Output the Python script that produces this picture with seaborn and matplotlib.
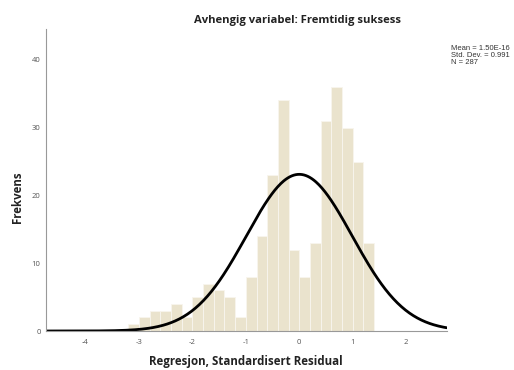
import numpy as np
import pandas as pd
import matplotlib
matplotlib.use("Agg")
import matplotlib.pyplot as plt
import seaborn as sns

# Histogram of standardized residuals (bin width 0.2, from -3.2 to 1.4)
bin_edges = [round(-3.2 + 0.2 * i, 1) for i in range(24)]
counts = [1, 2, 3, 3, 4, 2, 5, 7, 6, 5, 2, 8, 14, 23, 34, 12, 8, 13, 31, 36, 30, 25, 13]

# Summary statistics
mean_val = 1.50e-16
std_val = 0.991
n_obs = 287

x_ticks = [-4, -3, -2, -1, 0, 1, 2]
y_ticks = [0, 10, 20, 30, 40]

title = "Avhengig variabel: Fremtidig suksess"
x_label = "Regresjon, Standardisert Residual"
y_label = "Frekvens"

sns.set_theme(style="white")
plt.rcParams["font.family"] = ["Open Sans", "DejaVu Sans"]

centers = [(bin_edges[i] + bin_edges[i + 1]) / 2 for i in range(len(counts))]
df = pd.DataFrame({"residual": centers, "count": counts})

fig = plt.figure(figsize=(5.14, 3.70), dpi=100)
ax = fig.add_axes([45.5 / 514, 39 / 370, (446.7 - 45.5) / 514, (331 - 29.3) / 370])

sns.histplot(data=df, x="residual", weights="count", bins=bin_edges,
             color="#EAE3CD", alpha=1.0, edgecolor="#F8F5EE", linewidth=0.6, ax=ax)

# Fitted normal curve scaled to counts per bin
xmin, xmax = -4.75, 2.76
width = bin_edges[1] - bin_edges[0]
xs = np.linspace(xmin, xmax, 400)
ys = n_obs * width * np.exp(-0.5 * ((xs - mean_val) / std_val) ** 2) / (std_val * np.sqrt(2 * np.pi))
sns.lineplot(x=xs, y=ys, color="black", linewidth=2.0, ax=ax)

ax.set_xlim(xmin, xmax)
ax.set_ylim(0, 44.5)
ax.set_xticks(x_ticks)
ax.set_xticklabels([str(t) for t in x_ticks])
ax.set_yticks(y_ticks)
ax.set_yticklabels([str(t) for t in y_ticks])
ax.tick_params(axis="both", length=0, labelsize=5.5, labelcolor="#555555")
ax.tick_params(axis="x", pad=6)
ax.tick_params(axis="y", pad=3.5)
ax.set_xlabel("")
ax.set_ylabel("")
for side in ["top", "right"]:
    ax.spines[side].set_visible(False)
for side in ["left", "bottom"]:
    ax.spines[side].set_color("#999999")
    ax.spines[side].set_linewidth(0.8)

fig.text(298 / 514, 1 - 20 / 370, title, ha="center", va="center",
         fontsize=8.1, fontweight="bold", color="#222222")
fig.text(246 / 514, 1 - 362 / 370, x_label, ha="center", va="center",
         fontsize=8.3, fontweight="bold", color="#222222")
fig.text(17 / 514, 1 - 197 / 370, y_label, ha="center", va="center", rotation=90,
         fontsize=8.3, fontweight="bold", color="#222222")

stats = f"Mean = {mean_val:.2E}" + "\n" + f"Std. Dev. = {std_val:.3f}" + "\n" + f"N = {n_obs}"
fig.text(451 / 514, 1 - 45 / 370, stats, ha="left", va="top",
         fontsize=5.5, color="#333333", linespacing=0.95,
         family=["Liberation Sans", "DejaVu Sans"])

fig.savefig("out.png", dpi=100)
